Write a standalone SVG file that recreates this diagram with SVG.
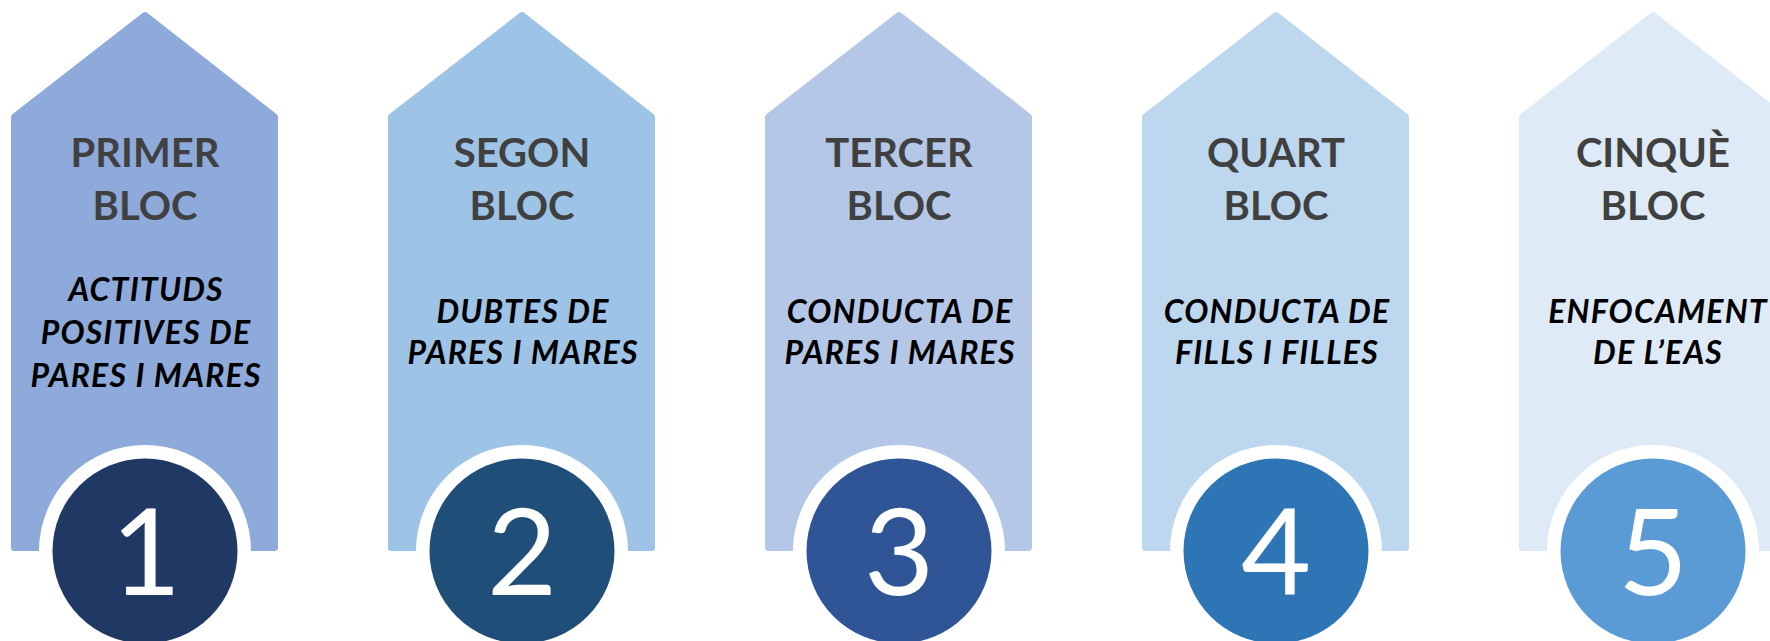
<svg xmlns="http://www.w3.org/2000/svg" width="1770" height="641" viewBox="0 0 1770 641">
<style>
.sh{stroke-width:7;stroke-linejoin:round}
.t{font-family:Lato,"Open Sans","Liberation Sans",sans-serif;font-weight:700;font-size:40px;fill:#404040;text-anchor:middle}
.s{font-family:Lato,"Open Sans","Liberation Sans",sans-serif;font-weight:700;font-style:italic;font-size:32px;letter-spacing:1.2px;fill:#000;text-anchor:middle}
.n{font-family:Lato,"Open Sans","Liberation Sans",sans-serif;font-weight:400;font-size:121px;fill:#fff;text-anchor:middle}
.ring{fill:#fff}
</style>
<defs>
<polygon id="house" points="145,15.5 274.5,117 274.5,547.5 14.5,547.5 14.5,117"/>
</defs>
<rect width="1770" height="641" fill="#fff"/>
<g id="node1">
<use href="#house" class="sh" fill="#8eaadb" stroke="#8eaadb"/>
<text class="t" x="145" y="167">PRIMER</text>
<text class="t" x="145" y="220">BLOC</text>
<text class="s" x="146" y="301">ACTITUDS</text>
<text class="s" x="146" y="344">POSITIVES DE</text>
<text class="s" x="146" y="387">PARES I MARES</text>
<circle class="ring" cx="145" cy="551" r="106"/>
<circle cx="145" cy="551" r="92.5" fill="#203864"/>
<text class="n" x="146" y="595">1</text>
</g>
<g id="node2" transform="translate(377,0)">
<use href="#house" class="sh" fill="#9dc3e6" stroke="#9dc3e6"/>
<text class="t" x="145" y="167">SEGON</text>
<text class="t" x="145" y="220">BLOC</text>
<text class="s" x="146" y="323">DUBTES DE</text>
<text class="s" x="146" y="364">PARES I MARES</text>
<circle class="ring" cx="145" cy="551" r="106"/>
<circle cx="145" cy="551" r="92.5" fill="#1f4e79"/>
<text class="n" x="145" y="595">2</text>
</g>
<g id="node3" transform="translate(754,0)">
<use href="#house" class="sh" fill="#b4c7e7" stroke="#b4c7e7"/>
<text class="t" x="145" y="167">TERCER</text>
<text class="t" x="145" y="220">BLOC</text>
<text class="s" x="146" y="323">CONDUCTA DE</text>
<text class="s" x="146" y="364">PARES I MARES</text>
<circle class="ring" cx="145" cy="551" r="106"/>
<circle cx="145" cy="551" r="92.5" fill="#2f5597"/>
<text class="n" x="145" y="595">3</text>
</g>
<g id="node4" transform="translate(1131,0)">
<use href="#house" class="sh" fill="#bdd7ee" stroke="#bdd7ee"/>
<text class="t" x="145" y="167">QUART</text>
<text class="t" x="145" y="220">BLOC</text>
<text class="s" x="146" y="323">CONDUCTA DE</text>
<text class="s" x="146" y="364">FILLS I FILLES</text>
<circle class="ring" cx="145" cy="551" r="106"/>
<circle cx="145" cy="551" r="92.5" fill="#2e75b6"/>
<text class="n" x="145" y="595">4</text>
</g>
<g id="node5" transform="translate(1508,0)">
<use href="#house" class="sh" fill="#deebf7" stroke="#deebf7"/>
<text class="t" x="145" y="167">CINQUÈ</text>
<text class="t" x="145" y="220">BLOC</text>
<text class="s" x="150" y="323">ENFOCAMENT</text>
<text class="s" x="150" y="364">DE L’EAS</text>
<circle class="ring" cx="145" cy="551" r="106"/>
<circle cx="145" cy="551" r="92.5" fill="#5b9bd5"/>
<text class="n" x="145" y="595">5</text>
</g>
<g id="connectors"/>
</svg>
